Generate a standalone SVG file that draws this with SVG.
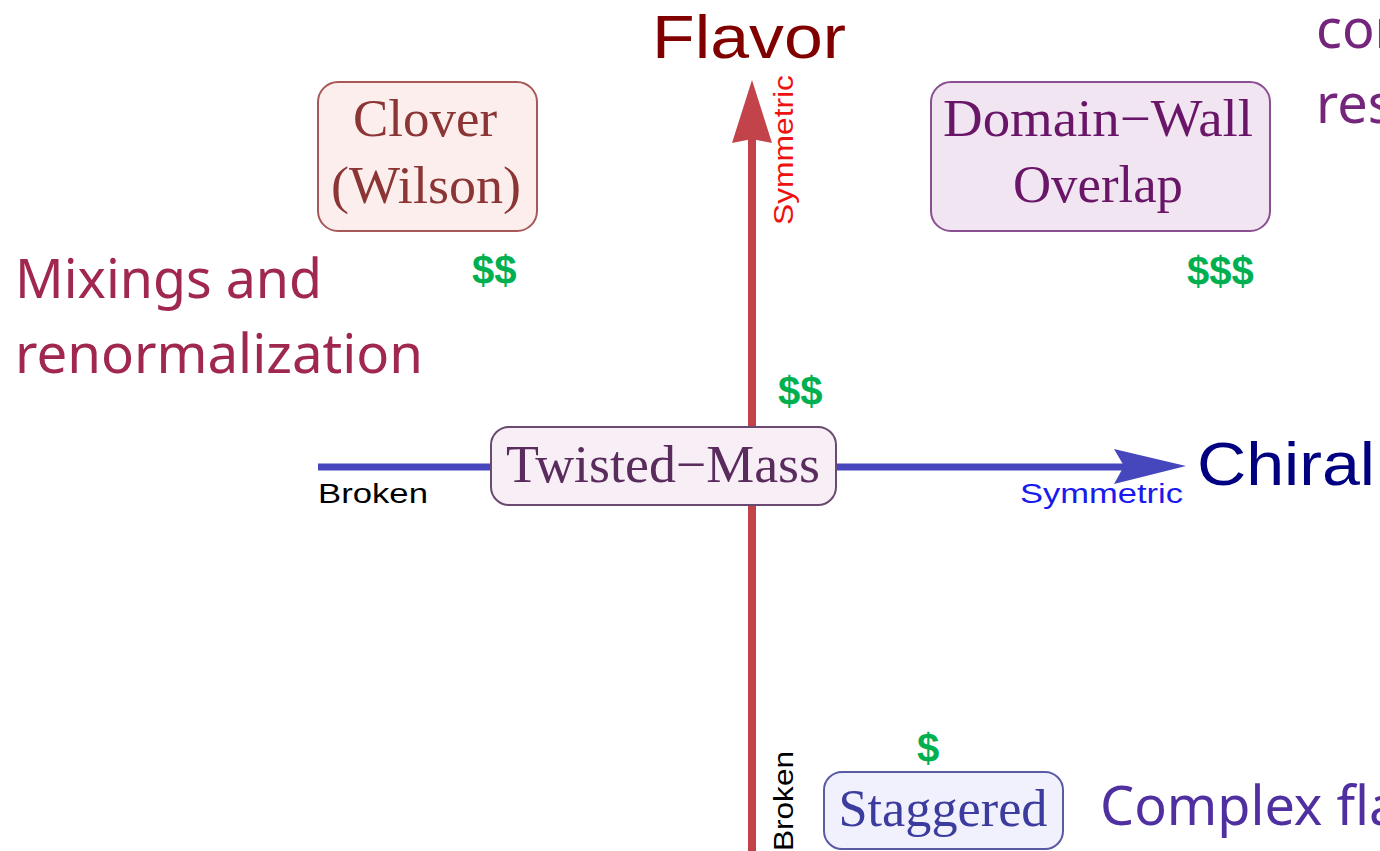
<svg xmlns="http://www.w3.org/2000/svg" width="1380" height="851" viewBox="0 0 1380 851">
<style>
.serif{font-family:"Liberation Serif","Times New Roman",serif;font-size:52px;text-anchor:middle}
.sans{font-family:"Liberation Sans",Arial,sans-serif}
.cal{font-family:"Noto Sans","Open Sans",sans-serif;font-size:54px}
.cost{font-family:"Liberation Sans",Arial,sans-serif;font-weight:bold;font-size:40px;fill:#00b050}
.box{stroke-width:2}
</style>
<rect width="1380" height="851" fill="#ffffff"/>
<g id="connectors">
<line x1="752" y1="851" x2="752" y2="138" stroke="#c2444a" stroke-width="8"/>
<polygon points="752,80 772,143 752,139 732,143" fill="#c2444a"/>
<line x1="318" y1="467" x2="1125" y2="467" stroke="#4646bd" stroke-width="7"/>
<polygon points="1186,466 1114,449 1124,466 1114,484" fill="#4646bd"/>
</g>
<g id="axis-labels">
<text class="sans" x="749" y="58" font-size="62" fill="#800000" text-anchor="middle" textLength="194" lengthAdjust="spacingAndGlyphs">Flavor</text>
<text class="sans" x="1197" y="485" font-size="62" fill="#000080" textLength="178" lengthAdjust="spacingAndGlyphs">Chiral</text>
<text class="sans" x="1020" y="503" font-size="27" fill="#1a1aee" textLength="163" lengthAdjust="spacingAndGlyphs">Symmetric</text>
<text class="sans" x="318" y="503" font-size="27" fill="#000000" textLength="110" lengthAdjust="spacingAndGlyphs">Broken</text>
<text class="sans" transform="translate(793,225) rotate(-90)" font-size="27" fill="#ee1111" textLength="150" lengthAdjust="spacingAndGlyphs">Symmetric</text>
<text class="sans" transform="translate(793,851) rotate(-90)" font-size="27" fill="#000000" textLength="100" lengthAdjust="spacingAndGlyphs">Broken</text>
</g>
<g id="clover">
<rect class="box" x="318" y="82" width="219" height="149" rx="20" fill="#fdeeee" stroke="#a85858"/>
<text class="serif" x="425" y="136" fill="#8b3535" textLength="144" lengthAdjust="spacingAndGlyphs">Clover</text>
<text class="serif" x="426" y="203" fill="#8b3535" textLength="190" lengthAdjust="spacingAndGlyphs">(Wilson)</text>
</g>
<g id="domainwall">
<rect class="box" x="931" y="82" width="339" height="149" rx="20" fill="#f1e5f2" stroke="#8a4f90"/>
<text class="serif" x="1098" y="136" fill="#6a1668" textLength="310" lengthAdjust="spacingAndGlyphs">Domain−Wall</text>
<text class="serif" x="1098" y="202" fill="#6a1668" textLength="170" lengthAdjust="spacingAndGlyphs">Overlap</text>
</g>
<g id="twistedmass">
<rect class="box" x="491" y="427" width="345" height="78" rx="18" fill="#f8eff6" stroke="#6a4a72"/>
<text class="serif" x="663" y="482" fill="#5a2c5e" textLength="314" lengthAdjust="spacingAndGlyphs">Twisted−Mass</text>
</g>
<g id="staggered">
<rect class="box" x="824" y="772" width="239" height="77" rx="18" fill="#f1f1fd" stroke="#5a5aa5"/>
<text class="serif" x="943" y="826" fill="#3c3c9e" textLength="209" lengthAdjust="spacingAndGlyphs">Staggered</text>
</g>
<g id="costs">
<text class="cost" x="472" y="284">$$</text>
<text class="cost" x="778" y="405">$$</text>
<text class="cost" x="1187" y="285">$$$</text>
<text class="cost" x="917" y="762">$</text>
</g>
<g id="notes">
<text class="cal" x="15" y="298" fill="#a0284f" textLength="307" lengthAdjust="spacingAndGlyphs">Mixings and</text>
<text class="cal" x="15" y="373" fill="#a0284f" textLength="408" lengthAdjust="spacingAndGlyphs">renormalization</text>
<text class="cal" x="1316" y="48" fill="#74267c">con</text>
<text class="cal" x="1316" y="123" fill="#74267c">res</text>
<text class="cal" x="1100" y="825" fill="#5030a0">Complex fla</text>
</g>
</svg>
